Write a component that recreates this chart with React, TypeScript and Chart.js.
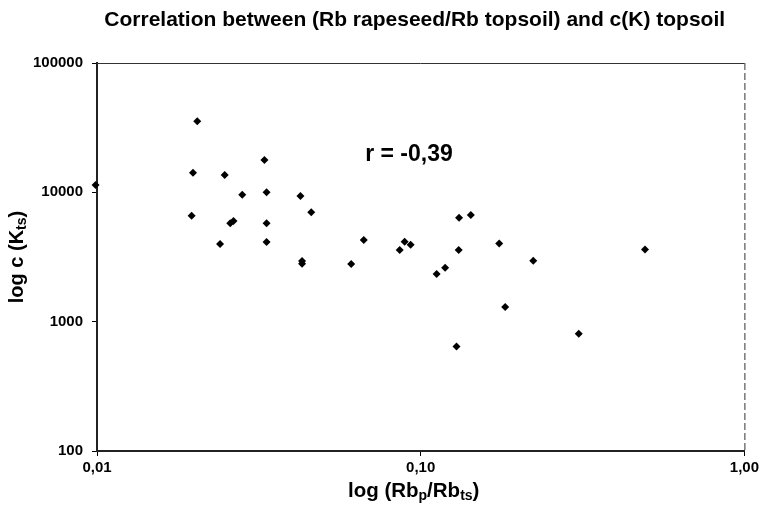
import React, { useEffect, useRef } from "react";
import { Chart, registerables } from "chart.js";

Chart.register(...registerables);

// Data
const ratioValues = [
  0.0099, 0.0204, 0.0198, 0.0196, 0.0248, 0.0329, 0.0281, 0.0334, 0.0425, 0.0459,
  0.0258, 0.0264, 0.0334, 0.024, 0.0334, 0.043, 0.043, 0.061, 0.0667, 0.0861,
  0.0892, 0.0931, 0.1314, 0.1428, 0.131, 0.1748, 0.2227, 0.493, 0.112, 0.119,
  0.1824, 0.3078, 0.129,
];
const kValues = [
  11400, 35400, 14190, 6590, 13600, 17780, 9590, 10000, 9360, 7000,
  5760, 6000, 5760, 3980, 4130, 2800, 2950, 2790, 4280, 3580,
  4150, 3930, 6360, 6680, 3580, 4030, 2960, 3620, 2335, 2610,
  1297, 806, 644,
];
const xTickValues = [0.01, 0.1, 1];
const xTickLabels = ["0,01", "0,10", "1,00"];
const yTickValues = [100, 1000, 10000, 100000];
const yTickLabels = ["100", "1000", "10000", "100000"];
const chartTitle = "Correlation between (Rb rapeseed/Rb topsoil) and c(K) topsoil";
const xTitleParts = [
  { text: "log (Rb", sub: false },
  { text: "p", sub: true },
  { text: "/Rb", sub: false },
  { text: "ts", sub: true },
  { text: ")", sub: false },
];
const yTitleParts = [
  { text: "log c (K", sub: false },
  { text: "ts", sub: true },
  { text: ")", sub: false },
];
const rLabel = { text: "r = -0,39", x: 0.092, y: 19500 };

const FONT = "'Liberation Sans', Arial, sans-serif";

type Part = { text: string; sub: boolean };

function drawRich(ctx: CanvasRenderingContext2D, parts: Part[], cx: number, cy: number, size: number) {
  const mainFont = `bold ${size}px ${FONT}`;
  const subFont = `bold ${Math.round(size * 0.68)}px ${FONT}`;
  let total = 0;
  const widths = parts.map((p) => {
    ctx.font = p.sub ? subFont : mainFont;
    const w = ctx.measureText(p.text).width;
    total += w;
    return w;
  });
  let x = cx - total / 2;
  ctx.textAlign = "left";
  ctx.textBaseline = "middle";
  parts.forEach((p, i) => {
    ctx.font = p.sub ? subFont : mainFont;
    ctx.fillText(p.text, x, p.sub ? cy + size * 0.25 : cy);
    x += widths[i];
  });
}

const extrasPlugin = {
  id: "extras",
  afterDraw(chart: any) {
    const { ctx, chartArea, scales } = chart;
    const { left, right, top, bottom } = chartArea;
    ctx.save();
    // top and right frame lines
    ctx.strokeStyle = "#333";
    ctx.lineWidth = 1;
    ctx.beginPath();
    ctx.moveTo(left, top + 0.5);
    ctx.lineTo(right, top + 0.5);
    ctx.stroke();
    ctx.setLineDash([7, 3]);
    ctx.beginPath();
    ctx.moveTo(right + 0.5, top);
    ctx.lineTo(right + 0.5, bottom);
    ctx.stroke();
    ctx.setLineDash([]);

    ctx.fillStyle = "#000";
    // chart title, centred over the plot area
    ctx.font = `bold 21px ${FONT}`;
    ctx.textAlign = "center";
    ctx.textBaseline = "middle";
    ctx.fillText(chartTitle, (left + right) / 2 - 6, 20);
    // x axis title
    drawRich(ctx, xTitleParts, (left + right) / 2 - 7, 491, 20.5);
    // y axis title
    ctx.save();
    ctx.translate(17, (top + bottom) / 2);
    ctx.rotate(-Math.PI / 2);
    drawRich(ctx, yTitleParts, 0, 0, 20);
    ctx.restore();
    // correlation label
    ctx.font = `bold 23px ${FONT}`;
    ctx.textAlign = "center";
    ctx.textBaseline = "middle";
    ctx.fillText(rLabel.text, scales.x.getPixelForValue(rLabel.x), scales.y.getPixelForValue(rLabel.y));
    ctx.restore();
  },
};

export default function App() {
  const ref = useRef<HTMLCanvasElement | null>(null);
  useEffect(() => {
    if (!ref.current) return;
    const points = ratioValues.map((x, i) => ({ x, y: kValues[i] }));
    const chart = new Chart(ref.current, {
      type: "scatter",
      data: {
        datasets: [
          {
            data: points,
            pointStyle: "rectRot",
            pointRadius: 4,
            backgroundColor: "#000",
            borderColor: "#000",
            borderWidth: 0,
            clip: false,
          },
        ],
      },
      options: {
        animation: false,
        responsive: false,
        layout: { padding: { left: 0, right: 17, top: 63, bottom: 0 } },
        plugins: {
          legend: { display: false },
          tooltip: { enabled: false },
          title: { display: false },
        },
        scales: {
          x: {
            type: "logarithmic",
            min: 0.01,
            max: 1,
            afterBuildTicks: (scale: any) => {
              scale.ticks = xTickValues.map((v) => ({ value: v }));
            },
            afterFit: (scale: any) => {
              scale.height = 55;
            },
            ticks: {
              color: "#000",
              font: { family: FONT, size: 15, weight: "bold" },
              padding: 3,
              autoSkip: false,
              maxRotation: 0,
              callback: (_v: any, i: number) => xTickLabels[i],
            },
            grid: { display: true, drawOnChartArea: false, drawTicks: true, tickLength: 5, color: "#000" },
            border: { display: true, color: "#222", width: 2 },
          },
          y: {
            type: "logarithmic",
            min: 100,
            max: 100000,
            afterBuildTicks: (scale: any) => {
              scale.ticks = yTickValues.map((v) => ({ value: v }));
            },
            afterFit: (scale: any) => {
              scale.width = 97;
            },
            ticks: {
              color: "#000",
              font: { family: FONT, size: 15, weight: "bold" },
              padding: 9,
              autoSkip: false,
              callback: (_v: any, i: number) => yTickLabels[i],
            },
            grid: { display: true, drawOnChartArea: false, drawTicks: true, tickLength: 5, color: "#000" },
            border: { display: true, color: "#222", width: 2 },
          },
        },
      },
      plugins: [extrasPlugin],
    });
    return () => chart.destroy();
  }, []);
  return (
    <div style={{ position: "absolute", left: 0, top: 0, width: 762, height: 506, background: "#fff" }}>
      <canvas ref={ref} width={762} height={506} style={{ display: "block" }} />
    </div>
  );
}
